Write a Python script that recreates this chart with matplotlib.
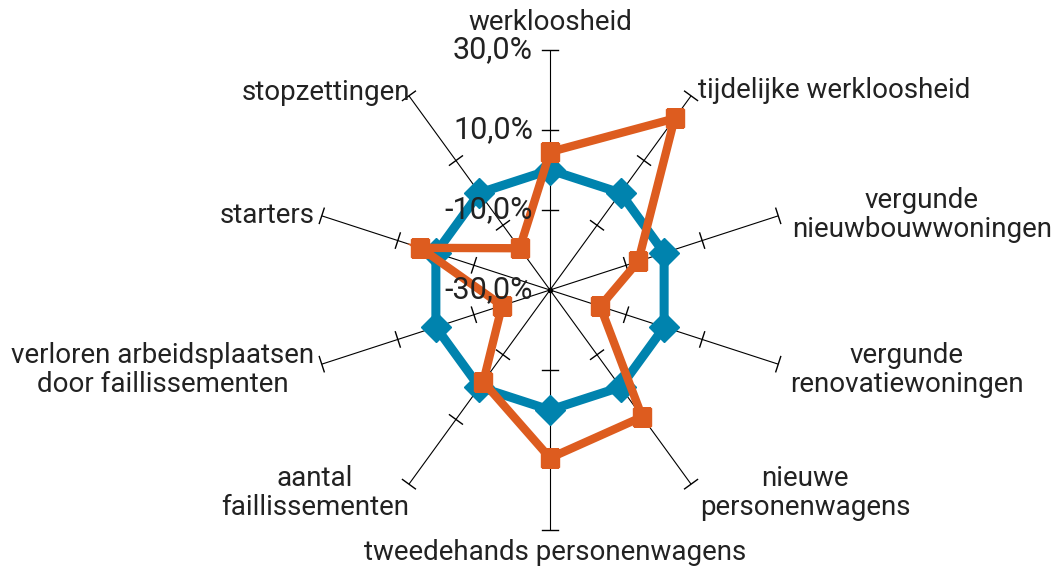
import numpy as np
import matplotlib
matplotlib.use("Agg")
import matplotlib.pyplot as plt
from matplotlib.transforms import offset_copy

categories = ["werkloosheid", "tijdelijke werkloosheid", "vergunde\nnieuwbouwwoningen",
              "vergunde\nrenovatiewoningen", "nieuwe\npersonenwagens",
              "tweedehands personenwagens", "aantal\nfaillissementen",
              "verloren arbeidsplaatsen\ndoor faillissementen", "starters", "stopzettingen"]
reference = [0.0, 0.0, 0.0, 0.0, 0.0, 0.0, 0.0, 0.0, 0.0, 0.0]
change = [4.5, 23.0, -6.8, -16.8, 9.2, 12.0, -1.6, -17.4, 4.1, -17.1]
ticks = [-10, 10, 30]
tick_labels = ["30,0%", "10,0%", "-10,0%", "-30,0%"]
tick_label_vals = [30, 10, -10, -30]

BLUE = "#0083ae"
ORANGE = "#dd5c1f"
TXT = "#222222"
plt.rcParams['font.family'] = ['Roboto', 'DejaVu Sans']

W, H = 1061, 571
fig = plt.figure(figsize=(W / 100, H / 100), dpi=100)
cx, cy, R = 550, 290, 240
ax = fig.add_axes([(cx - R) / W, (H - cy - R) / H, 2 * R / W, 2 * R / H], projection="polar")
ax.set_theta_zero_location("N")
ax.set_theta_direction(-1)
rmin, rmax = -30, 30
ax.set_ylim(rmin, rmax)
ax.axis("off")

n = len(categories)
theta = np.arange(n) * 2 * np.pi / n

# spokes and tick marks (short cross strokes, half length 8 px)
scale = R / (rmax - rmin)
half = 8
for t in theta:
    ax.plot([t, t], [rmin, rmax], color="black", lw=0.8, zorder=1)
    for v in ticks:
        rho = (v - rmin) * scale
        d = np.arctan(half / rho)
        r_end = np.hypot(rho, half) / scale + rmin
        ax.plot([t - d, t + d], [r_end, r_end], color="black", lw=1.0, zorder=1,
                clip_on=False)
ax.plot([0], [rmin], marker="o", ms=3, color="black", zorder=1)

tc = np.append(theta, theta[0])
ax.plot(tc, reference + reference[:1], color=BLUE, lw=6.5, zorder=2, solid_joinstyle="miter")
ax.plot(theta, reference, ls="none", marker="D", ms=15, color=BLUE, zorder=3)
ax.plot(tc, change + change[:1], color=ORANGE, lw=6, zorder=4, solid_joinstyle="miter")
ax.plot(theta, change, ls="none", marker="s", ms=13, color=ORANGE, zorder=5)

# value labels along the top spoke
tr = offset_copy(ax.transData, fig=fig, x=-17, y=0, units="dots")
for lab, v in zip(tick_labels, tick_label_vals):
    ax.text(0, v, lab, transform=tr, ha="right", va="center", fontsize=22, color=TXT, zorder=6)

# category labels (pixel positions)
label_pos = [
    (550, 22, "center"), (698, 90, "left"), (922, 215, "center"), (907, 370, "center"),
    (805, 493, "center"), (555, 553, "center"), (315, 493, "center"), (163, 370, "center"),
    (315, 215, "right"), (410, 92, "right"),
]
for lab, (x, y, ha) in zip(categories, label_pos):
    fig.text(x / W, 1 - y / H, lab, ha=ha, va="center", fontsize=20, color=TXT,
             multialignment="center", linespacing=1.1)

fig.savefig("out.png", dpi=100)
